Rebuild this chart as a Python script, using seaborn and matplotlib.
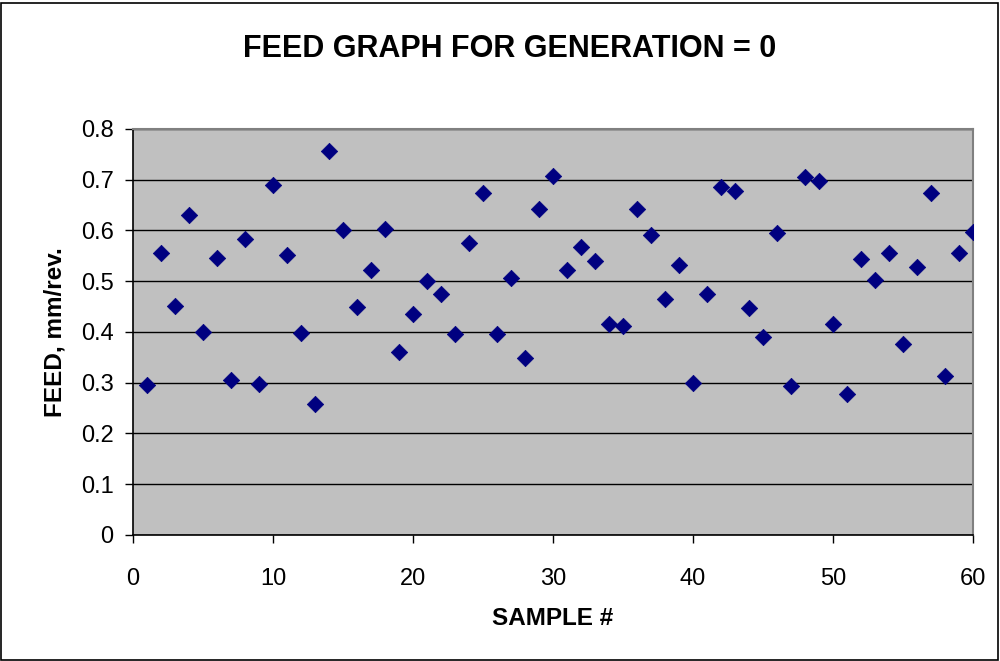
import matplotlib
matplotlib.use("Agg")
import matplotlib.pyplot as plt
import seaborn as sns
import pandas as pd
from matplotlib.patches import Rectangle

sample = list(range(1, 61))
feed = [0.295, 0.555, 0.450, 0.630, 0.400, 0.545, 0.305, 0.583, 0.298, 0.690,
        0.552, 0.397, 0.257, 0.757, 0.600, 0.448, 0.522, 0.603, 0.360, 0.436,
        0.500, 0.475, 0.395, 0.575, 0.673, 0.396, 0.507, 0.348, 0.642, 0.708,
        0.522, 0.567, 0.540, 0.415, 0.412, 0.642, 0.590, 0.464, 0.531, 0.300,
        0.475, 0.686, 0.677, 0.447, 0.390, 0.595, 0.293, 0.705, 0.697, 0.415,
        0.277, 0.543, 0.503, 0.555, 0.376, 0.527, 0.673, 0.313, 0.555, 0.596]
xticks = [0, 10, 20, 30, 40, 50, 60]
yticks = [0, 0.1, 0.2, 0.3, 0.4, 0.5, 0.6, 0.7, 0.8]
ytick_labels = ["0", "0.1", "0.2", "0.3", "0.4", "0.5", "0.6", "0.7", "0.8"]

df = pd.DataFrame({"sample": sample, "feed": feed})

sns.set_style("white")
plt.rcParams['font.family'] = ['Liberation Sans', 'DejaVu Sans']
plt.rcParams['text.color'] = 'black'
plt.rcParams['axes.labelcolor'] = 'black'
plt.rcParams['xtick.color'] = 'black'
plt.rcParams['ytick.color'] = 'black'

fig = plt.figure(figsize=(10, 6.61), dpi=100)
ax = fig.add_axes([0.133, 0.191, 0.84, 0.614])
ax.set_facecolor("#C0C0C0")

sns.scatterplot(data=df, x="sample", y="feed", marker="D", s=70,
                color="#000080", edgecolor="#000080", linewidth=0.5, ax=ax, zorder=3)

ax.set_xlim(0, 60)
ax.set_ylim(0, 0.8)
ax.set_xticks(xticks)
ax.set_yticks(yticks)
ax.set_yticklabels(ytick_labels)
ax.yaxis.grid(True, color="black", linewidth=1.0)
ax.set_axisbelow(True)
ax.tick_params(axis="both", direction="out", length=6, width=1, color="black",
               labelcolor="black", labelsize=17, bottom=True, left=True)
ax.tick_params(axis="x", pad=18)
ax.tick_params(axis="y", pad=8)

for side in ["top", "right"]:
    ax.spines[side].set_color("#808080")
    ax.spines[side].set_linewidth(1.5)
for side in ["left", "bottom"]:
    ax.spines[side].set_color("black")
    ax.spines[side].set_linewidth(1.2)

ax.set_xlabel("SAMPLE #", fontsize=17.5, fontweight="bold", labelpad=12, color="black")
ax.set_ylabel("FEED, mm/rev.", fontsize=17.5, fontweight="bold", labelpad=10, color="black")
fig.text(0.51, 0.926, "FEED GRAPH FOR GENERATION = 0", ha="center", va="center",
         fontsize=22, fontweight="bold", color="black")

fig.patches.append(Rectangle((0.001, 0.002), 0.997, 0.993, transform=fig.transFigure,
                             fill=False, edgecolor="black", linewidth=1.2))

fig.savefig("out.png", dpi=100)
